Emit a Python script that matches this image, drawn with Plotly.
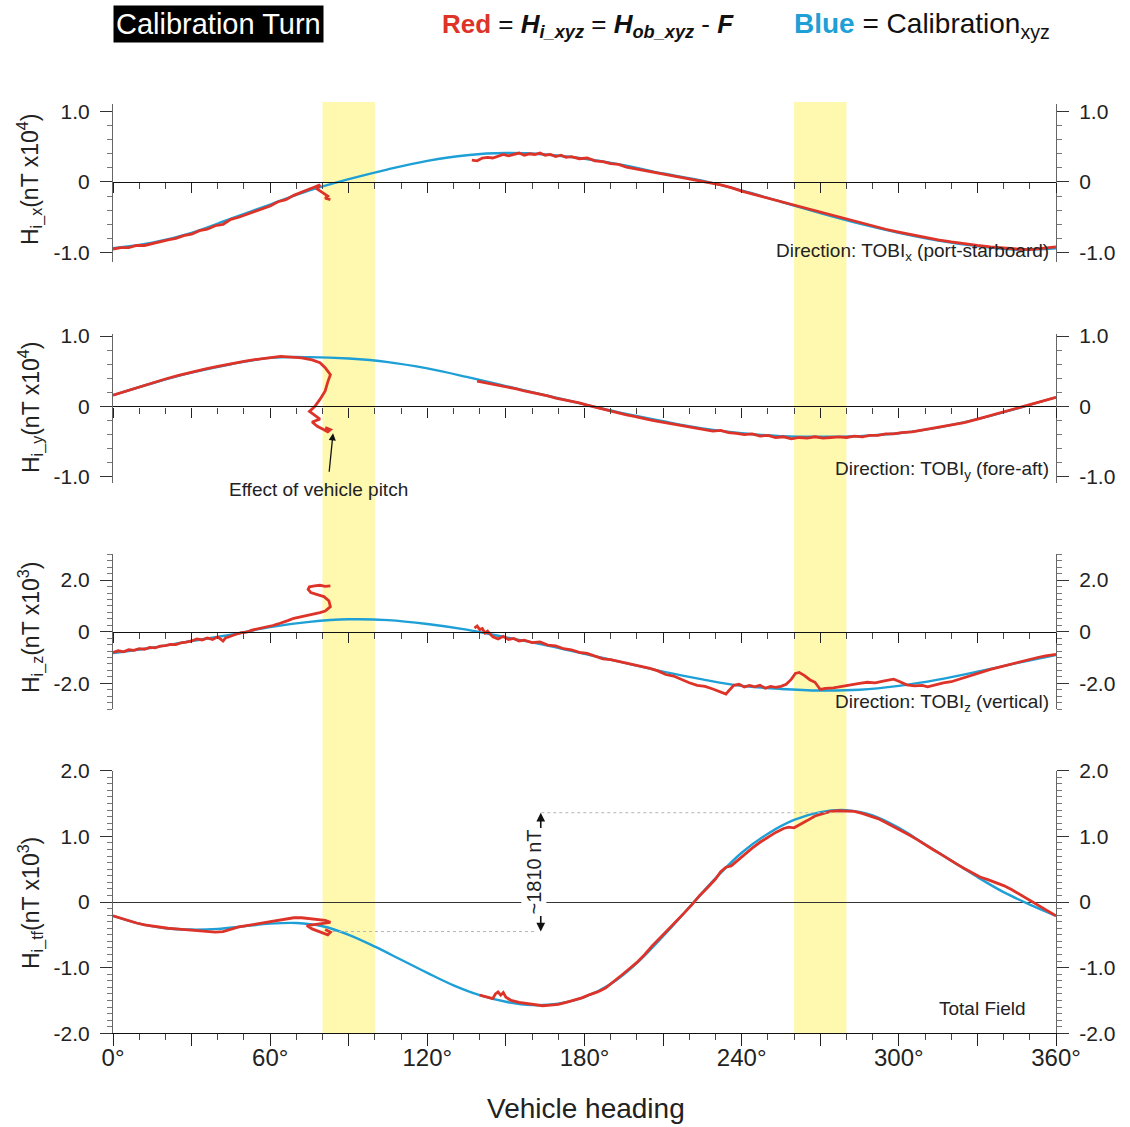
import plotly.graph_objects as go

# ---------------- data ----------------
RED = "#DD3328"
BLUE = "#1E9FD6"

# calibration (blue) curves, heading in degrees
blue_deg_15 = [0, 15, 30, 45, 60, 75, 90, 105, 120, 135, 150, 165, 180,
               195, 210, 225, 240, 255, 270, 285, 300, 315, 330, 345, 360]
hx_blue = [-0.94, -0.86, -0.72, -0.52, -0.32, -0.12, 0.04, 0.18, 0.30, 0.38, 0.41, 0.39, 0.33,
           0.24, 0.12, 0.02, -0.12, -0.28, -0.44, -0.59, -0.72, -0.83, -0.91, -0.96, -0.94]
hy_blue = [0.16, 0.33, 0.48, 0.60, 0.69, 0.70, 0.68, 0.63, 0.54, 0.42, 0.29, 0.16, 0.03,
           -0.10, -0.21, -0.31, -0.38, -0.42, -0.43, -0.42, -0.38, -0.30, -0.18, -0.03, 0.13]
hz_blue = [-0.83, -0.62, -0.36, -0.12, 0.18, 0.38, 0.48, 0.45, 0.30, 0.08, -0.22, -0.52, -0.86,
           -1.20, -1.55, -1.85, -2.10, -2.22, -2.28, -2.25, -2.10, -1.86, -1.55, -1.22, -0.90]
blue_deg_10 = list(range(0, 361, 10))
htf_blue = [-0.21, -0.33, -0.40, -0.42, -0.41, -0.37, -0.33, -0.32, -0.37, -0.50,
            -0.68, -0.88, -1.08, -1.27, -1.42, -1.52, -1.57, -1.55, -1.45, -1.25,
            -0.93, -0.52, -0.08, 0.36, 0.75, 1.04, 1.25, 1.37, 1.40, 1.32,
            1.13, 0.88, 0.63, 0.38, 0.15, -0.04, -0.21]

# observed (red) curves: two segments each, interrupted by the turn
hx_red_a_deg = [0, 3, 6, 9, 12, 15, 18, 21, 24, 27, 30, 33, 36, 39, 42, 45, 48, 51, 54, 57,
                60, 63, 66, 69, 72, 75, 77, 79, 78, 80, 82, 81, 83]
hx_red_a = [-0.95, -0.93, -0.93, -0.90, -0.90, -0.87, -0.85, -0.82, -0.80, -0.76, -0.74, -0.69,
            -0.67, -0.62, -0.60, -0.53, -0.50, -0.46, -0.42, -0.37, -0.34, -0.28, -0.25, -0.19,
            -0.15, -0.10, -0.07, -0.04, -0.10, -0.15, -0.20, -0.23, -0.25]
hx_red_b_deg = [137, 139, 141, 143, 145, 147, 149, 151, 153, 155, 157, 159, 161, 163, 165, 167,
                169, 171, 173, 175, 178, 181, 184, 187, 190, 193, 196, 199, 202, 205, 208, 211,
                214, 217, 220, 223, 226, 229, 232, 236, 240, 245, 250, 255, 260, 265, 270, 275,
                280, 285, 290, 295, 300, 305, 310, 315, 320, 325, 330, 335, 340, 345, 350, 355, 360]
hx_red_b = [0.31, 0.30, 0.34, 0.35, 0.34, 0.37, 0.39, 0.37, 0.39, 0.41, 0.38, 0.40, 0.39, 0.41,
            0.38, 0.39, 0.36, 0.38, 0.35, 0.36, 0.33, 0.34, 0.30, 0.29, 0.26, 0.25, 0.21, 0.19,
            0.17, 0.15, 0.12, 0.10, 0.08, 0.06, 0.04, 0.03, 0.00, -0.02, -0.04, -0.08, -0.13,
            -0.18, -0.23, -0.28, -0.33, -0.38, -0.43, -0.48, -0.53, -0.58, -0.62, -0.67, -0.71,
            -0.75, -0.79, -0.82, -0.85, -0.88, -0.90, -0.92, -0.94, -0.95, -0.96, -0.94, -0.92]

hy_red_a_deg = [0, 5, 10, 15, 20, 25, 30, 35, 40, 45, 50, 55, 60, 64, 68, 72, 76, 79, 81, 83,
                82, 81, 79, 77, 75, 77, 79, 76, 78, 80, 82, 83, 81]
hy_red_a = [0.16, 0.22, 0.28, 0.34, 0.39, 0.44, 0.49, 0.53, 0.57, 0.61, 0.64, 0.67, 0.69, 0.71,
            0.70, 0.69, 0.66, 0.62, 0.55, 0.45, 0.35, 0.22, 0.10, 0.00, -0.07, -0.13, -0.18,
            -0.22, -0.28, -0.32, -0.36, -0.33, -0.30]
hy_red_b_deg = [139, 142, 145, 148, 151, 154, 157, 160, 163, 166, 169, 172, 175, 178, 181, 184,
                187, 190, 193, 196, 199, 202, 205, 208, 211, 214, 217, 220, 223, 226, 229, 232,
                235, 238, 241, 244, 247, 250, 253, 256, 259, 262, 265, 268, 271, 274, 277, 280,
                283, 286, 289, 292, 295, 298, 301, 305, 310, 315, 320, 325, 330, 335, 340, 345,
                350, 355, 360]
hy_red_b = [0.36, 0.34, 0.32, 0.30, 0.27, 0.25, 0.22, 0.20, 0.17, 0.15, 0.12, 0.10, 0.07, 0.05,
            0.02, -0.01, -0.04, -0.07, -0.09, -0.12, -0.14, -0.17, -0.19, -0.21, -0.23, -0.26,
            -0.27, -0.30, -0.31, -0.33, -0.35, -0.34, -0.37, -0.38, -0.40, -0.39, -0.42, -0.41,
            -0.44, -0.43, -0.46, -0.44, -0.45, -0.43, -0.45, -0.44, -0.43, -0.44, -0.42, -0.43,
            -0.41, -0.41, -0.39, -0.39, -0.37, -0.36, -0.33, -0.30, -0.27, -0.23, -0.18, -0.13,
            -0.08, -0.03, 0.03, 0.08, 0.13]

hz_red_a_deg = [0, 2, 4, 6, 8, 10, 12, 14, 16, 18, 20, 22, 24, 26, 28, 30, 32, 34, 36, 38, 40,
                42, 43, 45, 47, 49, 51, 53, 55, 57, 59, 61, 63, 65, 67, 69, 71, 73, 75, 77, 79,
                81, 83, 82.4, 80.5, 78, 75.5, 74.5, 75, 77, 79, 81, 83]
hz_red_a = [-0.80, -0.74, -0.78, -0.70, -0.72, -0.66, -0.68, -0.61, -0.63, -0.56, -0.54, -0.49,
            -0.50, -0.43, -0.40, -0.36, -0.28, -0.32, -0.24, -0.30, -0.20, -0.36, -0.24, -0.16,
            -0.10, -0.04, -0.02, 0.06, 0.10, 0.14, 0.18, 0.24, 0.30, 0.36, 0.44, 0.52, 0.56,
            0.62, 0.66, 0.70, 0.74, 0.80, 0.97, 1.20, 1.36, 1.44, 1.52, 1.64, 1.74, 1.78, 1.80,
            1.76, 1.78]
hz_red_b_deg = [138, 139, 140, 141, 142, 143, 145, 147, 149, 151, 153, 155, 157, 160, 163, 166,
                169, 172, 175, 178, 181, 184, 187, 190, 193, 196, 199, 202, 205, 208, 211, 214,
                217, 220, 223, 226, 229, 232, 234, 235, 237, 239, 241, 243, 245, 247, 249, 251,
                253, 255, 257, 259, 260.5, 262, 264, 266, 268, 270, 272, 275, 278, 281, 283, 285,
                288, 291, 294, 296, 298, 300, 303, 306, 309, 311, 314, 317, 320, 323, 326, 329,
                332, 335, 338, 341, 344, 347, 350, 353, 356, 360]
hz_red_b = [0.14, 0.22, 0.08, 0.12, -0.05, 0.02, -0.20, -0.28, -0.18, -0.30, -0.26, -0.36,
            -0.33, -0.42, -0.40, -0.52, -0.55, -0.66, -0.70, -0.80, -0.84, -0.96, -1.05, -1.08,
            -1.15, -1.22, -1.29, -1.36, -1.42, -1.52, -1.66, -1.72, -1.86, -1.98, -2.08, -2.12,
            -2.22, -2.34, -2.42, -2.30, -2.08, -2.04, -2.14, -2.08, -2.14, -2.08, -2.19, -2.12,
            -2.16, -2.12, -2.04, -1.84, -1.62, -1.58, -1.70, -1.86, -1.96, -2.24, -2.20, -2.18,
            -2.12, -2.06, -2.02, -2.00, -1.96, -1.98, -1.92, -1.88, -1.84, -1.92, -2.06, -2.10,
            -2.08, -2.14, -2.06, -1.98, -1.94, -1.84, -1.74, -1.64, -1.54, -1.46, -1.38, -1.30,
            -1.22, -1.14, -1.06, -1.00, -0.94, -0.88]

htf_red_a_deg = [0, 3, 6, 9, 12, 15, 18, 21, 24, 27, 30, 33, 36, 39, 42, 45, 48, 51, 54, 57, 60,
                 63, 66, 69, 72, 75, 78, 81, 83, 80, 77, 74, 76, 79, 82, 83, 81]
htf_red_a = [-0.21, -0.25, -0.28, -0.32, -0.35, -0.37, -0.39, -0.40, -0.41, -0.42, -0.42, -0.43,
             -0.44, -0.46, -0.45, -0.41, -0.38, -0.36, -0.34, -0.31, -0.29, -0.27, -0.25, -0.24,
             -0.24, -0.25, -0.26, -0.28, -0.31, -0.33, -0.34, -0.36, -0.41, -0.45, -0.50, -0.46,
             -0.42]
htf_red_b_deg = [140, 143, 145, 146, 147, 148, 149, 150, 152, 155, 158, 161, 164, 167, 170, 173,
                 176, 179, 182, 185, 188, 191, 194, 197, 200, 203, 206, 209, 212, 215, 218, 221,
                 224, 227, 230, 232, 234, 236, 238, 241, 244, 247, 250, 253, 256, 258, 260, 262,
                 265, 268, 271, 274, 277, 280, 283, 286, 289, 292, 295, 298, 301, 304, 307, 310,
                 313, 316, 319, 322, 325, 328, 331, 334, 337, 340, 343, 346, 349, 352, 355, 358, 360]
htf_red_b = [-1.42, -1.45, -1.47, -1.40, -1.37, -1.42, -1.38, -1.45, -1.50, -1.53, -1.55, -1.57,
             -1.58, -1.57, -1.56, -1.53, -1.50, -1.46, -1.41, -1.37, -1.31, -1.22, -1.12, -1.02,
             -0.92, -0.80, -0.66, -0.54, -0.42, -0.30, -0.17, -0.04, 0.10, 0.22, 0.35, 0.46,
             0.53, 0.55, 0.62, 0.73, 0.82, 0.91, 0.99, 1.06, 1.12, 1.14, 1.13, 1.17, 1.24, 1.31,
             1.35, 1.38, 1.39, 1.39, 1.38, 1.35, 1.31, 1.27, 1.21, 1.15, 1.09, 1.02, 0.95, 0.87,
             0.80, 0.73, 0.65, 0.58, 0.51, 0.45, 0.38, 0.34, 0.30, 0.25, 0.19, 0.12, 0.05,
             -0.02, -0.09, -0.16, -0.21]

# headings where the vehicle pitch disturbs the record
band_ranges = [(80, 100), (260, 280)]

# peak-to-trough annotation of the total field
span_nT = 1810
span_top = 1.36
span_bottom = span_top - span_nT / 1000.0

# ---------------- layout geometry ----------------
W, H = 1130, 1127
X_LEFT, X_RIGHT = 113, 1056


def py(y):
    return 1 - y / H


panels = [
    # (domain bottom px, domain top px, range, tickvals, ticktext, minor dtick)
    (261.7, 104.4, [-1.13, 1.10], [-1, 0, 1], ["-1.0", "0", "1.0"], 0.2),
    (483.3, 333.9, [-1.09, 1.03], [-1, 0, 1], ["-1.0", "0", "1.0"], 0.2),
    (709.1, 554.3, [-3.0, 3.0], [-2, 0, 2], ["-2.0", "0", "2.0"], 0.25),
    (1033.3, 770.7, [-2.0, 2.0], [-2, -1, 0, 1, 2], ["-2.0", "-1.0", "0", "1.0", "2.0"], 0.1),
]
ytitles = [
    "H<sub>i_x</sub>(nT x10<sup>4</sup>)",
    "H<sub>i_y</sub>(nT x10<sup>4</sup>)",
    "H<sub>i_z</sub>(nT x10<sup>3</sup>)",
    "H<sub>i_tf</sub>(nT x10<sup>3</sup>)",
]
directions = [
    "Direction: TOBI<sub>x</sub> (port-starboard)",
    "Direction: TOBI<sub>y</sub> (fore-aft)",
    "Direction: TOBI<sub>z</sub> (vertical)",
]
direction_y = [252, 470, 703]

FONT = "Liberation Sans, Arial, sans-serif"
TXT = "#222222"

fig = go.Figure()

series = [
    (blue_deg_15, hx_blue, [(hx_red_a_deg, hx_red_a), (hx_red_b_deg, hx_red_b)]),
    (blue_deg_15, hy_blue, [(hy_red_a_deg, hy_red_a), (hy_red_b_deg, hy_red_b)]),
    (blue_deg_15, hz_blue, [(hz_red_a_deg, hz_red_a), (hz_red_b_deg, hz_red_b)]),
    (blue_deg_10, htf_blue, [(htf_red_a_deg, htf_red_a), (htf_red_b_deg, htf_red_b)]),
]

for i, (bdeg, bval, reds) in enumerate(series):
    n = i + 1
    xa = "x" if n == 1 else f"x{n}"
    ya = "y" if n == 1 else f"y{n}"
    fig.add_trace(go.Scatter(x=bdeg, y=bval, mode="lines", line=dict(color=BLUE, width=2.4, shape="spline", smoothing=1.0),
                             xaxis=xa, yaxis=ya, showlegend=False, hoverinfo="skip"))
    for rdeg, rval in reds:
        fig.add_trace(go.Scatter(x=rdeg, y=rval, mode="lines", line=dict(color=RED, width=2.8),
                                 xaxis=xa, yaxis=ya, showlegend=False, hoverinfo="skip"))
    # empty trace carrying the right-hand axis
    fig.add_trace(go.Scatter(x=[None], y=[None], xaxis=xa, yaxis=f"y{n + 4}", showlegend=False, hoverinfo="skip"))

layout = dict(
    width=W, height=H,
    margin=dict(l=0, r=0, t=0, b=0),
    paper_bgcolor="white",
    plot_bgcolor="rgba(0,0,0,0)",
    font=dict(family=FONT, color=TXT),
    showlegend=False,
)

xdom = [X_LEFT / W, X_RIGHT / W]
major_x = list(range(0, 361, 30))
for i, (bot, top, rng, tv, tt, mdt) in enumerate(panels):
    n = i + 1
    xkey = "xaxis" if n == 1 else f"xaxis{n}"
    ykey = "yaxis" if n == 1 else f"yaxis{n}"
    xa = "x" if n == 1 else f"x{n}"
    ya = "y" if n == 1 else f"y{n}"
    dom = [py(bot), py(top)]
    yaxis_common = dict(
        domain=dom, range=rng, tickvals=tv, ticktext=tt,
        showline=True, linecolor="#666666", linewidth=1,
        ticks="outside", ticklen=12, tickwidth=1, tickcolor="#333333",
        minor=dict(ticks="outside", tickmode="linear", tick0=0, dtick=mdt, ticklen=5, tickcolor="#777777", showgrid=False),
        tickfont=dict(size=21, color=TXT, family=FONT),
        ticklabelstandoff=6,
        showgrid=False, zeroline=False, automargin=False, fixedrange=True,
    )
    layout[ykey] = dict(anchor=xa, side="left", **yaxis_common)
    layout[f"yaxis{n + 4}"] = dict(anchor=xa, side="right", overlaying=ya, **yaxis_common)

    if n < 4:
        zero_pos = dom[0] + (0 - rng[0]) / (rng[1] - rng[0]) * (dom[1] - dom[0])
        layout[xkey] = dict(
            domain=xdom, range=[0, 360], anchor="free", position=zero_pos,
            showline=True, linecolor="#111111", linewidth=1.2,
            tickvals=major_x, ticks="outside", ticklen=10, tickwidth=1, tickcolor="#222222",
            minor=dict(ticks="outside", tickmode="linear", tick0=0, dtick=10, ticklen=6, tickcolor="#444444"),
            showticklabels=False, showgrid=False, zeroline=False, fixedrange=True,
        )
    else:
        layout[xkey] = dict(
            domain=xdom, range=[0, 360], anchor=ya,
            showline=True, linecolor="#111111", linewidth=1.2,
            tickvals=major_x, ticktext=[f"{d}°" if d % 60 == 0 else "" for d in major_x],
            ticks="outside", ticklen=12, tickwidth=1, tickcolor="#222222",
            minor=dict(ticks="outside", tickmode="linear", tick0=0, dtick=10, ticklen=6, tickcolor="#444444"),
            tickfont=dict(size=24, color=TXT, family=FONT), ticklabelstandoff=-9,
            showgrid=False, zeroline=False, automargin=False, fixedrange=True,
        )
        layout[ykey]["zeroline"] = True
        layout[ykey]["zerolinecolor"] = "#333333"
        layout[ykey]["zerolinewidth"] = 1.2

fig.update_layout(**layout)

# highlighted heading bands spanning all panels
for x0, x1 in band_ranges:
    fig.add_shape(type="rect", xref="x4", yref="paper", x0=x0, x1=x1,
                  y0=py(1033.3), y1=py(102), fillcolor="rgb(255,249,176)",
                  line=dict(width=0), layer="below")

# dotted guides and the double arrow for the total-field span
fig.add_shape(type="line", xref="x4", yref="y4", x0=163.5, x1=280, y0=span_top, y1=span_top,
              line=dict(color="#b5b5b5", width=1, dash="dot"))
fig.add_shape(type="line", xref="x4", yref="y4", x0=84, x1=161, y0=span_bottom, y1=span_bottom,
              line=dict(color="#b5b5b5", width=1, dash="dot"))
for yv, ay in [(span_top, 22), (span_bottom, -22)]:
    fig.add_annotation(xref="x4", yref="y4", x=163.3, y=yv, text="", showarrow=True,
                       ax=0, ay=ay, arrowhead=2, arrowsize=1.1, arrowwidth=1.6, arrowcolor="#111111")
fig.add_annotation(xref="x4", yref="y4", x=160.6, y=(span_top + span_bottom) / 2 + 0.005,
                   text=f"~{span_nT} nT", textangle=-90, showarrow=False,
                   xanchor="center", yanchor="middle",
                   font=dict(size=20, color=TXT, family=FONT), bgcolor="white")

# pitch annotation in the fore-aft panel
fig.add_annotation(xref="x2", yref="paper", x=78.3, y=py(490), text="Effect of vehicle pitch",
                   showarrow=False, xanchor="center", yanchor="middle",
                   font=dict(size=19, color=TXT, family=FONT))
fig.add_annotation(xref="x2", yref="y2", x=84.0, y=-0.38, text="", showarrow=True,
                   ax=-4, ay=40, arrowhead=2, arrowsize=1.1, arrowwidth=1.3, arrowcolor="#111111")

# direction labels
for txt, yv in zip(directions, direction_y):
    fig.add_annotation(xref="paper", yref="paper", x=1051 / W, y=py(yv), xanchor="right", yanchor="middle",
                       text=txt, showarrow=False, font=dict(size=19, color=TXT, family=FONT))
fig.add_annotation(xref="paper", yref="paper", x=1028 / W, y=py(1008), xanchor="right", yanchor="middle",
                   text="Total Field", showarrow=False, font=dict(size=19, color=TXT, family=FONT))

# y-axis titles
ytitle_centers = [180, 408, 628, 903]
for txt, yc in zip(ytitles, ytitle_centers):
    fig.add_annotation(xref="paper", yref="paper", x=30 / W, y=py(yc), text=txt, textangle=-90,
                       xanchor="center", yanchor="middle",
                       showarrow=False, font=dict(size=23, color=TXT, family=FONT))

# x-axis title
fig.add_annotation(xref="paper", yref="paper", x=586 / W, y=py(1108), text="Vehicle heading",
                   xanchor="center", yanchor="middle",
                   showarrow=False, font=dict(size=28, color=TXT, family=FONT))

# header line
fig.add_annotation(xref="paper", yref="paper", x=113 / W, y=py(24), xanchor="left", yanchor="middle",
                   text="Calibration Turn", showarrow=False, bgcolor="black", borderpad=2,
                   font=dict(size=29, color="white", family=FONT))
fig.add_annotation(xref="paper", yref="paper", x=440 / W, y=py(25), xanchor="left", yanchor="middle",
                   text=(f"<b><span style='color:{RED}'>Red</span></b> = <b><i>H<sub>i_xyz</sub></i></b>"
                         " = <b><i>H<sub>ob_xyz</sub></i></b> - <b><i>F</i></b>"),
                   showarrow=False, font=dict(size=26, color="#111111", family=FONT))
fig.add_annotation(xref="paper", yref="paper", x=1052 / W, y=py(25), xanchor="right", yanchor="middle",
                   text=f"<b><span style='color:{BLUE}'>Blue</span></b> = Calibration<sub>xyz</sub>",
                   showarrow=False, font=dict(size=28, color="#111111", family=FONT))

fig.write_html("out.html")
